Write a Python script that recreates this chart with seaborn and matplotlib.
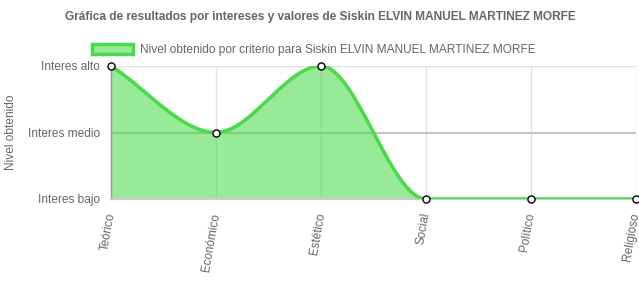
import numpy as np
import pandas as pd
import matplotlib
matplotlib.use("Agg")
import matplotlib.pyplot as plt
from matplotlib.patches import Patch
import seaborn as sns

categories = ["Teórico", "Económico", "Estético", "Social", "Político", "Religioso"]
values = [3, 2, 3, 1, 1, 1]
level_ticks = [1, 2, 3]
level_labels = ["Interes bajo", "Interes medio", "Interes alto"]
title = "Gráfica de resultados por intereses y valores de Siskin ELVIN MANUEL MARTINEZ MORFE"
series_label = "Nivel obtenido por criterio para Siskin ELVIN MANUEL MARTINEZ MORFE"
ylabel = "Nivel obtenido"

sns.set_style("white")
plt.rcParams["font.family"] = ["Liberation Sans", "DejaVu Sans"]

def monotone_curve(xs, ys, n=60):
    xs = np.asarray(xs, float); ys = np.asarray(ys, float)
    N = len(xs)
    dk = np.diff(ys) / np.diff(xs)
    m = np.zeros(N)
    m[0] = dk[0]; m[-1] = dk[-1]
    for i in range(1, N - 1):
        m[i] = 0 if dk[i - 1] * dk[i] <= 0 else (dk[i - 1] + dk[i]) / 2
    for i in range(N - 1):
        if dk[i] == 0:
            m[i] = m[i + 1] = 0
            continue
        a = m[i] / dk[i]; b = m[i + 1] / dk[i]
        s = a * a + b * b
        if s > 9:
            t = 3 / np.sqrt(s)
            m[i] = t * a * dk[i]; m[i + 1] = t * b * dk[i]
    X, Y = [], []
    for i in range(N - 1):
        h = xs[i + 1] - xs[i]
        t = np.linspace(0, 1, n, endpoint=(i == N - 2))
        h00 = 2*t**3 - 3*t**2 + 1; h10 = t**3 - 2*t**2 + t
        h01 = -2*t**3 + 3*t**2; h11 = t**3 - t**2
        X.append(xs[i] + t * h)
        Y.append(h00*ys[i] + h10*h*m[i] + h01*ys[i+1] + h11*h*m[i+1])
    return np.concatenate(X), np.concatenate(Y)

pos = np.arange(len(categories))
cx, cy = monotone_curve(pos, values)
curve = pd.DataFrame({"x": cx, "y": cy})
pts = pd.DataFrame({"x": pos, "y": values})

W, H = 639, 308
fig = plt.figure(figsize=(W/100, H/100), dpi=100)
x0, x1, y0, y1 = 111, 636, 199, 66
ax = fig.add_axes([x0/W, 1 - y0/H, (x1-x0)/W, (y0-y1)/H])

line_col = "#4cd94c"
ax.fill_between(cx, cy, 1, color=line_col, alpha=0.575, lw=0, zorder=2)
sns.lineplot(data=curve, x="x", y="y", ax=ax, color=line_col, lw=2.6, zorder=3, sort=False)
sns.scatterplot(data=pts, x="x", y="y", ax=ax, s=26, color="white", edgecolor="black",
                linewidth=1.0, zorder=5, clip_on=False)

ax.set_xlim(0, len(categories) - 1)
ax.set_ylim(1, 3)
ax.set_xticks(pos)
ax.set_xticklabels(categories, rotation=80, ha="right", va="center", rotation_mode="anchor",
                   fontsize=8.6, color="#666666")
ax.set_yticks(level_ticks)
ax.set_yticklabels(level_labels, fontsize=8.6, color="#666666")
ax.tick_params(axis="both", length=6, width=1, color="#d9d9d9", pad=2)
ax.tick_params(axis="x", pad=4)
ax.grid(False)
for xv in pos:
    ax.axvline(xv, color="#e2e2e2", lw=1, zorder=1)
ax.axhline(3, color="#e2e2e2", lw=1, zorder=1)
ax.axhline(2, color="#c4c4c4", lw=1.6, zorder=1)
for s in ["top", "right"]:
    ax.spines[s].set_visible(False)
ax.spines["left"].set_color("#9a9a9a")
ax.spines["left"].set_linewidth(1)
ax.spines["bottom"].set_color("#cccccc")
ax.spines["bottom"].set_linewidth(1.6)
ax.set_xlabel("")
ax.set_ylabel(ylabel, fontsize=8.6, color="#666666")
ax.yaxis.set_label_coords((17 - x0) / (x1 - x0), 0.5)

fig.text(320/W, 1 - 17/H, title, ha="center", va="center", fontsize=8.6,
         fontweight="bold", color="#666666")
handle = Patch(facecolor=line_col, alpha=0.575, edgecolor=line_col, lw=2.5)
leg = fig.legend([handle], [series_label], loc="center", bbox_to_anchor=(314/W, 1 - 50/H),
                 frameon=False, fontsize=8.6, labelcolor="#666666", handlelength=3.4,
                 handleheight=0.9, handletextpad=0.6)
for p in leg.get_patches():
    p.set_facecolor((76/255, 217/255, 76/255, 0.575))
    p.set_edgecolor(line_col)
    p.set_alpha(None)

fig.savefig("out.png", dpi=100)
